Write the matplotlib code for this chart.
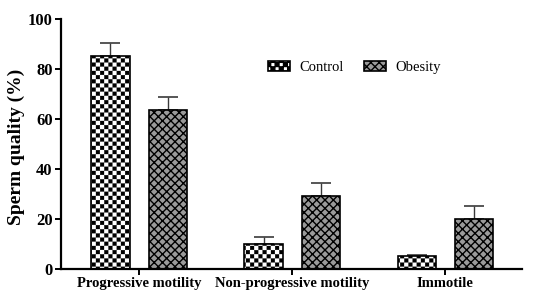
import warnings
import numpy as np
import matplotlib
matplotlib.use("Agg")
import matplotlib.pyplot as plt
from matplotlib import hatch as mhatch
from matplotlib.path import Path

warnings.filterwarnings("ignore")

categories = ["Progressive motility", "Non-progressive motility", "Immotile"]
control = [85.2, 10.0, 5.2]
control_err = [5.1, 3.0, 0.3]
obesity = [63.5, 29.0, 20.0]
obesity_err = [5.2, 5.3, 5.2]
yticks = [0, 20, 40, 60, 80, 100]


# checkerboard hatch, used with the letter 'c'
class CheckerHatch(mhatch.HatchPatternBase):
    def __init__(self, hatch, density):
        self.n = hatch.count('c') * int(density) * 4
        self.num_vertices = (self.n * self.n // 2) * 5

    def set_vertices_and_codes(self, vertices, codes):
        n = self.n
        s = 1.0 / n
        pad = 0.04 * s
        k = 0
        for i in range(n):
            for j in range(n):
                if (i + j) % 2:
                    continue
                x0, y0 = i * s + pad, j * s + pad
                x1, y1 = (i + 1) * s - pad, (j + 1) * s - pad
                vertices[k:k + 5] = [[x0, y0], [x1, y0], [x1, y1], [x0, y1], [x0, y0]]
                codes[k:k + 5] = [Path.MOVETO, Path.LINETO, Path.LINETO,
                                  Path.LINETO, Path.CLOSEPOLY]
                k += 5


mhatch._hatch_types.append(CheckerHatch)

plt.rcParams['font.family'] = ['Liberation Serif', 'DejaVu Serif']

fig = plt.figure(figsize=(5.57, 2.98), dpi=100)
ax = fig.add_axes([0.1095, 0.0973, 0.8275, 0.8390])

x = np.arange(len(categories))
w = 0.25
off = 0.187

with plt.rc_context({'hatch.linewidth': 0.2}):
    ax.bar(x - off, control, w, color='white', edgecolor='black',
           linewidth=1.2, hatch='c', label='Control', zorder=2)
with plt.rc_context({'hatch.linewidth': 1.0}):
    ax.bar(x + off, obesity, w, color='#9a9a9a', edgecolor='black',
           linewidth=1.2, hatch='xxxx', label='Obesity', zorder=2)

ax.errorbar(x - off, control, yerr=[np.zeros(3), control_err], fmt='none',
            ecolor='#3a3a3a', elinewidth=1.0, capsize=7, capthick=1.2, zorder=1)
ax.errorbar(x + off, obesity, yerr=[np.zeros(3), obesity_err], fmt='none',
            ecolor='#3a3a3a', elinewidth=1.0, capsize=7, capthick=1.2, zorder=1)

ax.set_xlim(-0.51, 2.5)
ax.set_ylim(0, 100)
ax.set_yticks(yticks)
ax.set_xticks(x)
ax.set_xticklabels(categories, fontsize=10.5, fontweight='bold')
for lab in ax.get_yticklabels():
    lab.set_fontsize(12)
    lab.set_fontweight('bold')

for side in ['top', 'right']:
    ax.spines[side].set_visible(False)
for side in ['left', 'bottom']:
    ax.spines[side].set_linewidth(1.6)
ax.tick_params(axis='both', width=1.4, length=4, pad=2)

ax.set_ylabel("Sperm quality (%)", fontsize=14, fontweight='bold')
ax.yaxis.set_label_coords(-0.078, 0.49)

leg = ax.legend(loc='upper left', bbox_to_anchor=(0.42, 0.885), ncol=2,
                frameon=False, fontsize=10.5, handlelength=1.5, handleheight=0.7,
                columnspacing=1.4, handletextpad=0.65)

fig.savefig("out.png", dpi=100)
